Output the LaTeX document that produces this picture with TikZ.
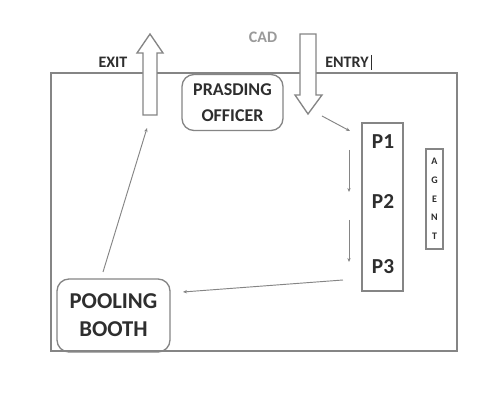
\documentclass[tikz,border=0pt]{standalone}
\usepackage{fontspec}
\setmainfont{Carlito}
\usetikzlibrary{arrows.meta}
\definecolor{txt}{HTML}{2E2E2E}
\definecolor{ln}{HTML}{858585}
\definecolor{cadgray}{HTML}{9A9A9A}
\tikzset{
  frame/.style={draw=ln, line width=1.1pt},
  bigarrow/.style={draw=ln, fill=white, line width=1pt, line join=miter},
  roundbox/.style={draw=ln, line width=1pt, rounded corners=9pt, inner sep=0pt},
  label/.style={text=txt, font=\bfseries\fontsize{12}{14}\selectfont, inner sep=0pt},
  ptext/.style={text=txt, font=\bfseries\fontsize{16}{18}\selectfont, inner sep=0pt},
  conn/.style={draw=ln, line width=0.7pt, -{Stealth[length=3pt,width=2.5pt]}},
}
\begin{document}
\begin{tikzpicture}[x=0.75pt,y=-0.75pt]
\useasboundingbox (0,0) rectangle (480,403);
\fill[white] (0,0) rectangle (480,403);
% outer frame
\draw[frame] (51,73) rectangle (457,351);
% exit and entry arrows
\draw[bigarrow] (143,115) -- (143,53) -- (137,53) -- (150,34) -- (163,53) -- (157,53) -- (157,115) -- cycle;
\draw[bigarrow] (300,34) -- (316,34) -- (316,95) -- (322,95) -- (308,114) -- (295,95) -- (300,95) -- cycle;
\coordinate (exitfoot) at (147,128);
\coordinate (entrytip) at (322,116);
% labels
\node[label] (exit) at (113,62) {EXIT};
\node[label, text=cadgray] (cad) at (263,37) {CAD};
\node[label] (entry) at (347,62) {ENTRY};
\draw[txt, line width=0.6pt] (371,55) -- (371,70);
% prasding officer
\node[roundbox, minimum width=101*0.75pt, minimum height=56*0.75pt, align=center,
      text=txt, font=\bfseries\fontsize{13.5}{19}\selectfont] (po) at (232.5,102.5) {PRASDING\\OFFICER};
% P box
\node[draw=ln, line width=0.9pt, minimum width=41*0.75pt, minimum height=168*0.75pt, inner sep=0pt] (pbox) at (382.5,207) {};
\node[ptext] (p1) at (383,142) {P1};
\node[ptext] (p2) at (383,202) {P2};
\node[ptext] (p3) at (383,267) {P3};
% agent
\node[draw=ln, line width=0.9pt, minimum width=17*0.75pt, minimum height=100*0.75pt, inner sep=0pt] (agentbox) at (434.5,199) {};
\node[text=txt, font=\bfseries\fontsize{7.5}{14}\selectfont, align=center, inner sep=0pt] (agent) at (434.5,199) {A\\G\\E\\N\\T};
% pooling booth
\node[roundbox, minimum width=113*0.75pt, minimum height=73*0.75pt, align=center,
      text=txt, font=\bfseries\fontsize{17}{21}\selectfont] (pb) at (113.5,315.5) {POOLING\\BOOTH};
% connectors
\coordinate (p1in) at (350,131);
\coordinate (d1a) at (349,150);
\coordinate (d1b) at (349,192);
\coordinate (d2a) at (349,220);
\coordinate (d2b) at (349,262);
\coordinate (p3out) at (343,280);
\coordinate (pbin) at (183,292);
\coordinate (pbtop) at (103,272);
\draw[conn] (entrytip) -- (p1in);
\draw[conn] (d1a) -- (d1b);
\draw[conn] (d2a) -- (d2b);
\draw[conn] (p3out) -- (pbin);
\draw[conn] (pbtop) -- (exitfoot);
\end{tikzpicture}
\end{document}
